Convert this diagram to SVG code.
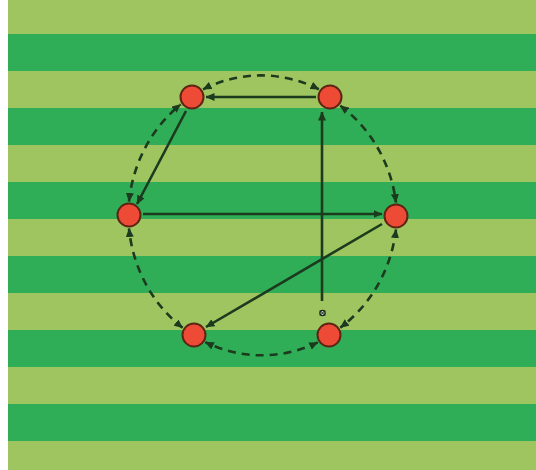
<svg xmlns="http://www.w3.org/2000/svg" width="536" height="470" viewBox="0 0 536 470">
<style>
.light{fill:#9ec55f}
.dark{fill:#30ae57}
.node{fill:#ee4b37;stroke:#5e2414;stroke-width:2}
.solid{fill:none;stroke:#1b3a1e;stroke-width:2.6}
.dash{fill:none;stroke:#1b3a1e;stroke-width:2.6;stroke-dasharray:8 6}
</style>
<defs>
<marker id="ah" markerWidth="9" markerHeight="8" refX="8.5" refY="4" orient="auto-start-reverse" markerUnits="userSpaceOnUse">
<path d="M0,0 L9,4 L0,8 Z" fill="#1b3a1e"/>
</marker>
</defs>
<rect x="0" y="0" width="536" height="470" fill="#ffffff"/>
<g id="field">
<rect class="light" x="8" y="0" width="528" height="470"/>
<rect class="dark" x="8" y="34" width="528" height="37"/>
<rect class="dark" x="8" y="108" width="528" height="37"/>
<rect class="dark" x="8" y="182" width="528" height="37"/>
<rect class="dark" x="8" y="256" width="528" height="37"/>
<rect class="dark" x="8" y="330" width="528" height="37"/>
<rect class="dark" x="8" y="404" width="528" height="37"/>
</g>
<g id="connectors">
<path class="dash" d="M203.1,89.3 A134,141.5 0 0 1 318.9,89.3" marker-start="url(#ah)" marker-end="url(#ah)"/>
<path class="dash" d="M340.3,105.7 A134,141.5 0 0 1 396,202.5" marker-start="url(#ah)" marker-end="url(#ah)"/>
<path class="dash" d="M396,229.5 A134,141.5 0 0 1 340.3,327.6" marker-start="url(#ah)" marker-end="url(#ah)"/>
<path class="dash" d="M317.7,342.4 A134,141.5 0 0 1 205.4,342.2" marker-start="url(#ah)" marker-end="url(#ah)"/>
<path class="dash" d="M182.6,327.8 A134,141.5 0 0 1 129,228.5" marker-start="url(#ah)" marker-end="url(#ah)"/>
<path class="dash" d="M129,201.5 A134,141.5 0 0 1 180.7,104.4" marker-start="url(#ah)" marker-end="url(#ah)"/>
<line class="solid" x1="316" y1="97" x2="206" y2="97" marker-end="url(#ah)"/>
<line class="solid" x1="186" y1="111" x2="137" y2="204" marker-end="url(#ah)"/>
<line class="solid" x1="143" y1="214" x2="382" y2="214" marker-end="url(#ah)"/>
<line class="solid" x1="382" y1="224" x2="206" y2="327" marker-end="url(#ah)"/>
<line class="solid" x1="322" y1="301" x2="322" y2="112" marker-end="url(#ah)"/>
</g>
<g id="ball">
<circle cx="322.5" cy="313" r="2.6" fill="#cfe0c0" stroke="#1b2a1e" stroke-width="1.4"/>
<path d="M320,310.5 L325,315.5 M325,310.5 L320,315.5" stroke="#1b2a1e" stroke-width="1"/>
</g>
<g id="n-tl"><circle class="node" cx="192" cy="97" r="11.5"/></g>
<g id="n-tr"><circle class="node" cx="330" cy="97" r="11.5"/></g>
<g id="n-l"><circle class="node" cx="129" cy="215" r="11.5"/></g>
<g id="n-r"><circle class="node" cx="396" cy="216" r="11.5"/></g>
<g id="n-bl"><circle class="node" cx="194" cy="335" r="11.5"/></g>
<g id="n-br"><circle class="node" cx="329" cy="335" r="11.5"/></g>
</svg>
